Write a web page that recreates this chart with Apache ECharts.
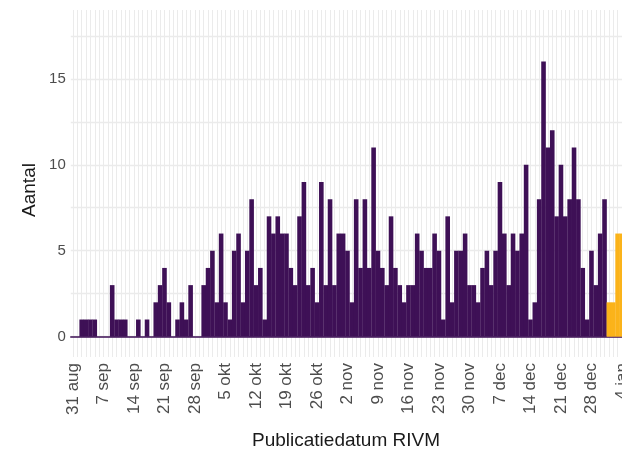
<!DOCTYPE html>
<html>
<head>
<meta charset="utf-8">
<script src="https://cdn.jsdelivr.net/npm/echarts@6/dist/echarts.min.js"></script>
<style>
  html, body { margin: 0; padding: 0; background: #ffffff; }
  #chart { width: 622px; height: 461px; }
</style>
</head>
<body>
<div id="chart"></div>
<script>
// Tick labels every 7 days, starting on 31 aug (day index 0)
const xTickLabels = ['31 aug', '7 sep', '14 sep', '21 sep', '28 sep', '5 okt', '12 okt', '19 okt', '26 okt',
  '2 nov', '9 nov', '16 nov', '23 nov', '30 nov', '7 dec', '14 dec', '21 dec', '28 dec', '4 jan'];
const tickStep = 7;
const dayCount = 127; // 31 aug .. 4 jan

// Daily counts (publication date RIVM), day 0 = 31 aug .. day 122 = 31 dec
const purpleCounts = [
  0, 0, 1, 1, 1, 1, 0, 0, 0, 3, 1, 1, 1, 0, 0, 1, 0, 1, 0, 2,
  3, 4, 2, 0, 1, 2, 1, 3, 0, 0, 3, 4, 5, 2, 6, 2, 1, 5, 6, 2,
  5, 8, 3, 4, 1, 7, 6, 7, 6, 6, 4, 3, 7, 9, 3, 4, 2, 9, 3, 8,
  3, 6, 6, 5, 2, 8, 4, 8, 4, 11, 5, 4, 3, 7, 4, 3, 2, 3, 3, 6,
  5, 4, 4, 6, 5, 1, 7, 2, 5, 5, 6, 3, 3, 2, 4, 5, 3, 5, 9, 6,
  3, 6, 5, 6, 10, 1, 2, 8, 16, 11, 12, 7, 10, 7, 8, 11, 8, 4, 1, 5,
  3, 6, 8
];
// Most recent days (orange), day 123 = 1 jan onward
const orangeCounts = [2, 2, 6, 6];
const orangeStart = purpleCounts.length;

const yLabelValues = [0, 5, 10, 15];
const yGridValues = [0, 2.5, 5, 7.5, 10, 12.5, 15, 17.5];

const purple = '#3e1056';
const orange = '#fbb31a';

const dayTicks = [];
for (let i = 0; i < dayCount; i++) dayTicks.push(i);
const labelTicks = xTickLabels.map((_, k) => k * tickStep);

const chart = echarts.init(document.getElementById('chart'), null, { renderer: 'canvas' });
chart.setOption({
  animation: false,
  backgroundColor: '#ffffff',
  textStyle: { fontFamily: 'Liberation Sans, Arial, sans-serif' },
  grid: {
    left: 70.8, top: 10, width: dayCount * 4.357, height: 347,
    containLabel: false, outerBoundsMode: 'none'
  },
  xAxis: {
    type: 'value',
    min: -0.5,
    max: dayCount - 0.5,
    axisLine: { show: true, onZero: true, lineStyle: { color: purple, width: 1.6 } },
    axisTick: { show: false, customValues: dayTicks },
    splitLine: { show: true, lineStyle: { color: '#ebebeb', width: 1 } },
    axisLabel: {
      customValues: labelTicks,
      formatter: v => xTickLabels[Math.round(v / tickStep)],
      rotate: 90,
      margin: 6,
      fontSize: 17,
      color: '#4d4d4d',
      fontFamily: 'Liberation Sans, Arial, sans-serif',
      hideOverlap: false
    }
  },
  yAxis: {
    type: 'value',
    min: -1.18,
    max: 19,
    axisLine: { show: false },
    axisTick: { show: false, customValues: yGridValues },
    splitLine: { show: true, lineStyle: { color: '#ebebeb', width: 1.3 } },
    axisLabel: {
      customValues: yLabelValues,
      margin: 5,
      fontSize: 15,
      color: '#4d4d4d',
      fontFamily: 'Liberation Sans, Arial, sans-serif'
    }
  },
  series: [
    {
      type: 'bar',
      data: purpleCounts.map((v, i) => [i, v]),
      barWidth: 4.6,
      barGap: '-100%',
      itemStyle: { color: purple }
    },
    {
      type: 'bar',
      data: orangeCounts.map((v, k) => [orangeStart + k, v]),
      barWidth: 4.6,
      barGap: '-100%',
      itemStyle: { color: orange }
    }
  ],
  graphic: [
    {
      type: 'text',
      x: 346, y: 441,
      style: {
        text: 'Publicatiedatum RIVM', x: 0, y: 0,
        align: 'center', verticalAlign: 'middle',
        font: '19px "Liberation Sans", Arial, sans-serif', fill: '#1a1a1a'
      }
    },
    {
      type: 'text',
      x: 30, y: 190, rotation: Math.PI / 2,
      style: {
        text: 'Aantal', x: 0, y: 0,
        align: 'center', verticalAlign: 'middle',
        font: '19px "Liberation Sans", Arial, sans-serif', fill: '#1a1a1a'
      }
    }
  ]
});
</script>
</body>
</html>
